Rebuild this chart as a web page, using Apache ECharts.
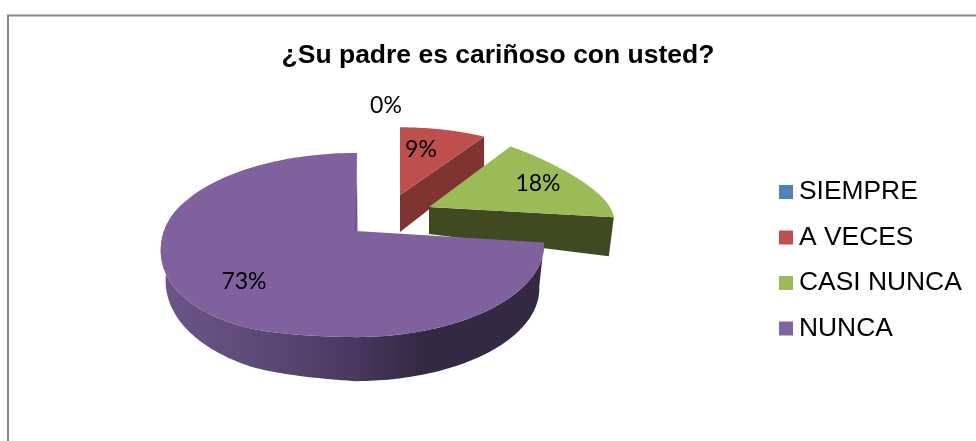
<!DOCTYPE html>
<html>
<head>
<meta charset="utf-8">
<style>html,body{margin:0;padding:0;background:#fff}#c{width:976px;height:441px}</style>
<script src="https://cdn.jsdelivr.net/npm/echarts@6/dist/echarts.min.js"></script>
</head>
<body>
<div id="c"></div>
<script>
const titleText = '¿Su padre es cariñoso con usted?';
const categories = ['SIEMPRE', 'A VECES', 'CASI NUNCA', 'NUNCA'];
const percentages = [0, 9, 18, 73];
const legendColors = ['#4F81BD', '#C0504D', '#9BBB59', '#8064A2'];
const topColors = ['#4F81BD', '#BE4F4C', '#9BBB59', '#7F619E'];
const wallColors = ['#2F4D71', '#7F3431', '#3F4A20', '#332943'];

// Projection of each exploded slice onto the picture
const PERSPECTIVE = 0.152;
const sliceViews = [
  {ax: 400, ay: 195, xr: 177, xl: 177, ry: 78, sh: 0, skew: 0, flat: 0, dApex: 37, dRim: 30, dRimL: 0, k: 1, lx: 386, ly: 106},
  {ax: 400, ay: 195, xr: 177, xl: 177, ry: 78, sh: 0, skew: 0, flat: 0, dApex: 37, dRim: 30, dRimL: 0, k: 1, lx: 421, ly: 150},
  {ax: 429, ay: 207, xr: 182, xl: 182, ry: 81, sh: 6, skew: 0, flat: 6, dApex: 27, dRim: 39, dRimL: 0, k: 0.973, lx: 538, ly: 184},
  {ax: 356, ay: 231, xr: 186, xl: 192, ry: 90, sh: -1, skew: 26, flat: 0, dApex: 44, dRim: 44, dRimL: 14, k: 0.975, lx: 244, ly: 282}
];

const total = percentages.reduce((a, b) => a + b, 0);
const starts = percentages.map((_, i) => percentages.slice(0, i).reduce((a, b) => a + b, 0));

function rim(th, g) {
  const u = Math.sin(th), v = -Math.cos(th), s = 1 / (1 - PERSPECTIVE * v);
  let x = g.ax + (u >= 0 ? g.xr : g.xl) * u * s + g.sh * v;
  if (u < 0 && v > 0) {
    const t = Math.min(1, -u / 0.4);
    x -= g.skew * v * v * t * t * (3 - 2 * t);
  }
  return [x, g.ay + g.ry * v * s];
}
function rimBelow(th, g) {
  const p = rim(th, g), u = Math.sin(th);
  return [g.ax + (p[0] - g.ax) * g.k, p[1] + g.dRim + g.dRimL * Math.min(u, 0)];
}
function topFace(a0, a1, g) {
  const pts = [[g.ax, g.ay]], n = 160;
  for (let i = 0; i <= n; i++) {
    const p = rim(a0 + (a1 - a0) * i / n, g);
    pts.push([p[0], p[1] + g.flat * Math.sin(Math.PI * i / n)]);
  }
  return pts;
}
function rimSide(a0, a1, g) {
  const up = [], low = [], n = 160;
  for (let i = 0; i <= n; i++) {
    const t = a0 + (a1 - a0) * i / n;
    up.push(rim(t, g));
    low.unshift(rimBelow(t, g));
  }
  return up.concat(low);
}

function makeRender(index) {
  return function (params, api) {
    const value = api.value(0), start = api.value(1);
    const g = sliceViews[index];
    const a0 = start / total * 2 * Math.PI, a1 = (start + value) / total * 2 * Math.PI;
    const children = [];
    if (value > 0) {
      if (a1 < Math.PI * 1.2) {
        children.push({type: 'polygon', shape: {points: [[g.ax, g.ay], rim(a1, g), rimBelow(a1, g), [g.ax, g.ay + g.dApex]]},
          style: {fill: wallColors[index]}});
      } else {
        children.push({type: 'polygon', shape: {points: rimSide(a0, Math.min(a1, Math.PI * 1.6), g)},
          style: {fill: {type: 'linear', x: 0, y: 0, x2: 1, y2: 0, colorStops: [
            {offset: 0, color: '#6C5589'}, {offset: 0.25, color: '#5E4A78'},
            {offset: 0.5, color: '#4A3860'}, {offset: 0.68, color: '#332943'}, {offset: 1, color: '#332943'}]}}});
      }
      children.push({type: 'polygon', shape: {points: topFace(a0, a1, g)}, style: {fill: topColors[index]}});
      if (a1 >= Math.PI * 1.2) {
        const p = rim(a1 % (2 * Math.PI), g);
        children.push({type: 'polygon', shape: {points: [[p[0], p[1] + 20], [g.ax + 1.5, g.ay], [g.ax - 1.5, g.ay]]},
          style: {fill: '#6F5690'}});
      }
    }
    children.push({type: 'text', z2: 50, style: {x: g.lx, y: g.ly, text: Math.round(value / total * 100) + '%',
      fill: '#000', font: '23px Lato', align: 'center', verticalAlign: 'middle'}});
    return {type: 'group', children};
  };
}

const chart = echarts.init(document.getElementById('c'), null, {renderer: 'canvas'});
chart.setOption({
  animation: false,
  backgroundColor: '#fff',
  title: {text: titleText, left: 498, top: 42, padding: 0, textAlign: 'center',
    textStyle: {fontFamily: 'Liberation Sans', fontWeight: 'bold', fontSize: 26.5, color: '#000'}},
  legend: {
    orient: 'vertical', left: 779, top: 179, padding: 0, itemWidth: 14, itemHeight: 14, itemGap: 19.5, icon: 'rect', selectedMode: false,
    textStyle: {fontFamily: 'Liberation Sans', fontSize: 26.4, lineHeight: 26, color: '#000', padding: [0, 0, 0, 1]},
    data: categories.map((name, i) => ({name, itemStyle: {color: legendColors[i]}}))
  },
  graphic: [{type: 'polyline', silent: true, shape: {points: [[976, 15.5], [8, 15.5], [8, 441]]},
    style: {stroke: '#888', lineWidth: 2, fill: null}}],
  series: categories.map((name, i) => ({
    type: 'custom', name, coordinateSystem: 'none', silent: true,
    itemStyle: {color: legendColors[i]},
    renderItem: makeRender(i),
    data: [[percentages[i], starts[i]]]
  }))
});
</script>
</body>
</html>
